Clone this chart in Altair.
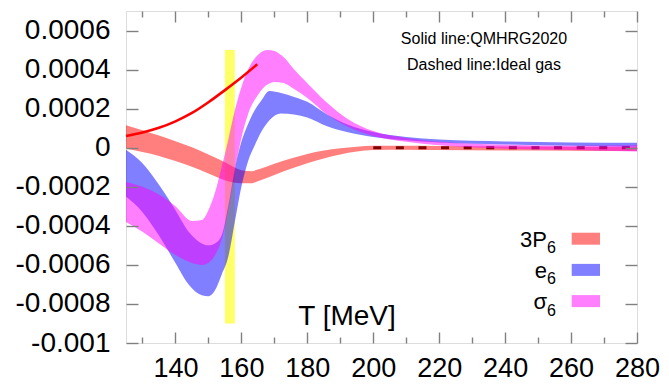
import altair as alt
import pandas as pd

# ---------------- data (values in units of 1e-4) ----------------
UNIT = 1e-4

# 3P6 band (QMHRG2020)
T_p = [125, 130, 135, 140, 145, 150, 155, 160, 163, 165, 170, 175, 180, 185, 190, 195, 200, 210, 220, 240, 260, 280]
p_hi = [1.15, 0.9, 0.62, 0.33, 0.02, -0.35, -0.75, -1.15, -1.2, -1.12, -0.82, -0.55, -0.32, -0.14, -0.03, 0.05, 0.1, 0.1, 0.09, 0.06, 0.05, 0.03]
p_lo = [-0.05, -0.22, -0.42, -0.68, -0.98, -1.32, -1.66, -1.82, -1.82, -1.72, -1.4, -1.08, -0.8, -0.55, -0.35, -0.2, -0.12, -0.1, -0.12, -0.14, -0.15, -0.17]

# e6 band
T_e = [125, 130, 135, 140, 144, 148, 150, 152, 154, 156, 158, 160, 162, 164, 166, 168.5, 172, 176, 180, 186, 192, 200, 210, 220, 240, 260, 280]
e_hi = [-0.1, -0.8, -1.9, -3.2, -4.3, -4.9, -5.0, -4.9, -4.5, -3.0, -1.1, 0.3, 1.2, 1.9, 2.4, 2.9, 2.8, 2.6, 2.35, 1.7, 1.2, 0.8, 0.55, 0.42, 0.32, 0.27, 0.25]
e_lo = [-2.5, -3.3, -4.5, -5.9, -7.0, -7.55, -7.6, -7.3, -6.5, -5.6, -3.8, -2.0, -0.7, 0.1, 0.8, 1.4, 1.75, 1.7, 1.55, 1.1, 0.8, 0.55, 0.38, 0.27, 0.17, 0.1, 0.05]

# sigma6 band
T_s = [125, 130, 135, 140, 145, 148, 150, 152, 154, 156, 158, 160, 162, 165, 168, 170, 173, 176, 180, 186, 192, 200, 210, 220, 240, 260, 280]
s_hi = [-1.75, -2.0, -2.4, -3.0, -3.75, -3.7, -3.2, -2.3, -1.0, 0.4, 1.9, 3.1, 4.0, 4.75, 5.0, 4.95, 4.6, 4.0, 3.3, 2.3, 1.5, 0.85, 0.5, 0.3, 0.15, 0.1, 0.12]
s_lo = [-3.8, -4.3, -4.9, -5.5, -5.9, -6.0, -5.9, -5.5, -4.7, -3.2, -1.2, 0.5, 1.7, 2.7, 3.25, 3.37, 3.3, 3.0, 2.55, 1.7, 1.1, 0.6, 0.3, 0.12, -0.05, -0.12, -0.2]

# red solid line
T_line = [125, 130, 135, 140, 145, 150, 155, 160, 164.8]
v_line = [0.6, 0.78, 1.02, 1.35, 1.78, 2.33, 2.95, 3.6, 4.27]

# ideal gas dashed line
T_ideal = [200, 280]
v_ideal = [0.0, 0.0]

# yellow Tc band
Tc_range = [155, 158]
Tc_vrange = [-9.0, 5.0]

x_major = [140, 160, 180, 200, 220, 240, 260, 280]
x_minor = [130, 150, 170, 190, 210, 230, 250, 270]
y_ticks = [-0.001, -0.0008, -0.0006, -0.0004, -0.0002, 0, 0.0002, 0.0004, 0.0006]

legend_names = ["3P", "e", "σ"]
legend_subs = ["6", "6", "6"]
legend_colors = ["#ff0000", "#0000ff", "#ff00ff"]

annot_lines = ["Solid line:QMHRG2020", "Dashed line:Ideal gas"]
x_title = ["T [MeV]"]

# ---------------- chart ----------------
W, H = 511, 332
FONT = "Liberation Sans"
TICK = "#808080"

xs = alt.Scale(domain=[125, 280], nice=False, zero=False)
ys = alt.Scale(domain=[-0.001, 0.0007], nice=False, zero=False)


def tick_axis(orient, offset, values, size):
    return alt.Axis(orient=orient, offset=offset, values=values, ticks=True, tickSize=size,
                    tickColor=TICK, tickWidth=1.4, labels=False, domain=False, grid=False,
                    title=None, zindex=2)


ax_x_lab = alt.Axis(orient="bottom", values=x_major, ticks=False, tickSize=0, domain=False,
                    grid=False, labelPadding=12, labelFontSize=27, labelFont=FONT,
                    labelColor="black", labelFlush=False, labelOverlap=False, format="d",
                    title=None)
ax_y_lab = alt.Axis(orient="left", values=y_ticks, ticks=False, tickSize=0, domain=False,
                    grid=False, labelPadding=16, labelFontSize=28, labelFont=FONT,
                    labelColor="black", labelOverlap=False, labelFlush=False,
                    labelExpr="replace(format(datum.value, '~g'), '\u2212', '-')", title=None)

ideal_df = pd.DataFrame({"T": T_ideal, "v": [u * UNIT for u in v_ideal]})
ideal = alt.Chart(ideal_df).mark_line(color="black", strokeWidth=3, strokeDash=[8, 14.6]).encode(
    x=alt.X("T:Q", scale=xs, axis=ax_x_lab),
    y=alt.Y("v:Q", scale=ys, axis=ax_y_lab),
)

tc_df = pd.DataFrame({"T1": [Tc_range[0]], "T2": [Tc_range[1]],
                      "v1": [Tc_vrange[0] * UNIT], "v2": [Tc_vrange[1] * UNIT]})
tc = alt.Chart(tc_df).mark_rect(color="#ffff00", opacity=0.6).encode(
    x=alt.X("T1:Q", scale=xs, axis=tick_axis("top", -H, x_major, 11)),
    x2="T2:Q",
    y=alt.Y("v1:Q", scale=ys, axis=tick_axis("right", -W, y_ticks, 12)),
    y2="v2:Q",
)


def band(T, hi, lo, color, xaxis, yaxis):
    df = pd.DataFrame({"T": T, "hi": [u * UNIT for u in hi], "lo": [u * UNIT for u in lo]})
    return alt.Chart(df).mark_area(color=color, opacity=0.5, interpolate="monotone").encode(
        x=alt.X("T:Q", scale=xs, axis=xaxis),
        y=alt.Y("hi:Q", scale=ys, axis=yaxis),
        y2="lo:Q",
    )


band_p = band(T_p, p_hi, p_lo, "#ff0000", tick_axis("top", -H, x_minor, 6), tick_axis("left", -W, y_ticks, 12))
band_e = band(T_e, e_hi, e_lo, "#0000ff", tick_axis("bottom", -H, x_major, 11), None)
band_s = band(T_s, s_hi, s_lo, "#ff00ff", tick_axis("bottom", -H, x_minor, 6), None)

line_df = pd.DataFrame({"T": T_line, "v": [u * UNIT for u in v_line]})
red_line = alt.Chart(line_df).mark_line(color="#ff0000", strokeWidth=2.6, interpolate="monotone").encode(
    x=alt.X("T:Q", scale=xs, axis=None),
    y=alt.Y("v:Q", scale=ys, axis=None),
)

# legend
leg_df = pd.DataFrame({"name": legend_names, "sub": legend_subs, "col": legend_colors,
                       "i": list(range(len(legend_names)))})
leg_base = alt.Chart(leg_df).transform_calculate(
    cy="227.7 + 31.2 * datum.i",
    sy1="datum.cy - 6", sy2="datum.cy + 6",
    ty="datum.cy + 8", suby="datum.cy + 14.5",
    sx1="445.7", sx2="474",
)
leg_sw = leg_base.mark_rect(opacity=0.5).encode(
    x=alt.X("sx1:Q", scale=None, axis=None), x2="sx2:Q",
    y=alt.Y("sy1:Q", scale=None, axis=None), y2="sy2:Q",
    color=alt.Color("col:N", scale=None),
)
leg_txt = leg_base.mark_text(align="right", baseline="alphabetic", fontSize=22, font=FONT,
                             color="black").encode(
    x=alt.value(421), y=alt.Y("ty:Q", scale=None, axis=None), text="name:N")
leg_sub = leg_base.mark_text(align="left", baseline="alphabetic", fontSize=16, font=FONT,
                             color="black").encode(
    x=alt.value(421), y=alt.Y("suby:Q", scale=None, axis=None), text="sub:N")

ann_df = pd.DataFrame({"t": annot_lines, "i": list(range(len(annot_lines)))})
ann = alt.Chart(ann_df).transform_calculate(ay="33 + 26 * datum.i").mark_text(
    align="center", baseline="alphabetic", fontSize=16, font=FONT, color="black").encode(
    x=alt.value(358), y=alt.Y("ay:Q", scale=None, axis=None), text="t:N")

xt_df = pd.DataFrame({"t": x_title})
xt = alt.Chart(xt_df).mark_text(align="center", baseline="alphabetic", fontSize=28, font=FONT,
                                color="black").encode(
    x=alt.value(221), y=alt.value(314), text="t:N")

chart = alt.layer(ideal, tc, band_p, band_e, band_s, red_line, leg_sw, leg_txt, leg_sub, ann, xt).resolve_axis(
    x="independent", y="independent"
).properties(
    width=W, height=H,
    autosize=alt.AutoSizeParams(type="none"),
    padding={"left": 118, "top": 3, "right": 23, "bottom": 39},
).configure_view(stroke="black", strokeWidth=2).configure(background="white")

chart.save("out.html", embed_options={"renderer": "svg", "actions": False})
